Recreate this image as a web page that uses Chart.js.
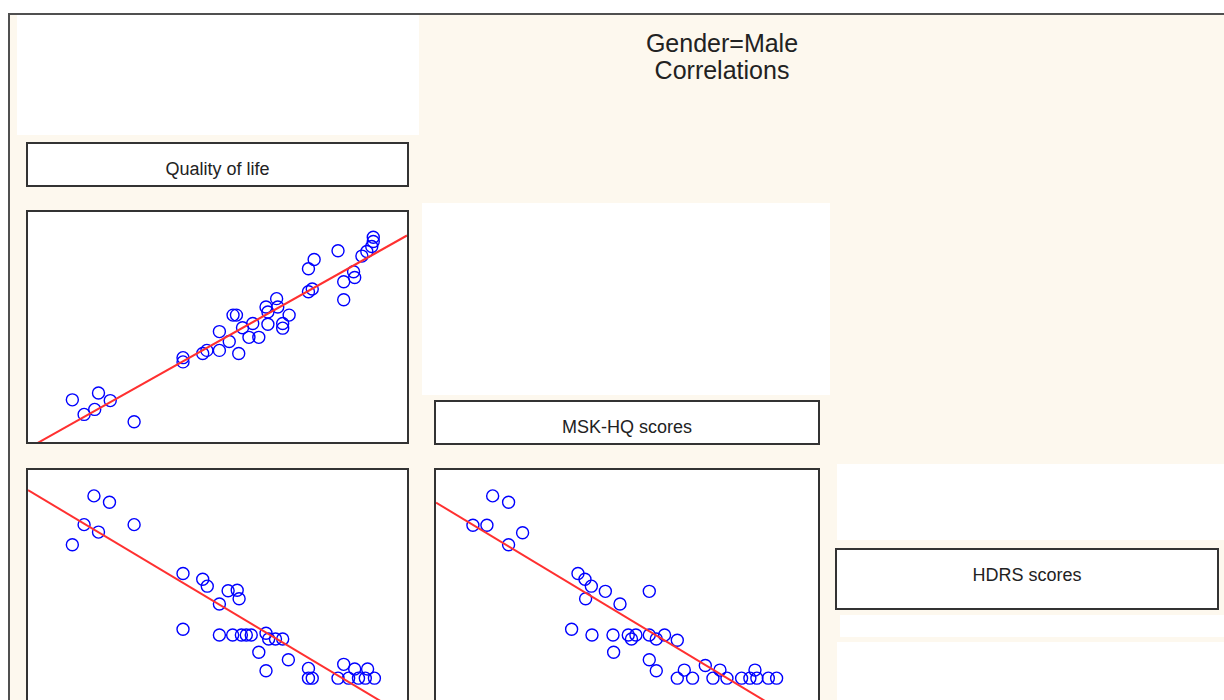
<!DOCTYPE html>
<html>
<head>
<meta charset="utf-8">
<title>Gender=Male Correlations</title>
<script src="https://cdn.jsdelivr.net/npm/chart.js@4.4.1/dist/chart.umd.min.js"></script>
<style>
body{margin:0;width:1224px;height:700px;overflow:hidden;background:#fff;font-family:Arial,"Liberation Sans",sans-serif;position:relative;}
#frame{position:absolute;left:8px;top:13px;width:1230px;height:700px;background:#fdf8ee;border-left:2px solid #505050;border-top:2px solid #505050;}
.white{position:absolute;background:#fff;}
.lbl{position:absolute;background:#fff;border:2px solid #333;box-sizing:border-box;text-align:center;font-size:18px;line-height:20px;color:#222;}
.panel{position:absolute;background:#fff;border:2px solid #333;box-sizing:border-box;}
.panel canvas{display:block;}
#title{position:absolute;left:572px;top:30px;width:300px;text-align:center;font-size:25px;line-height:27px;color:#222;}
</style>
</head>
<body>
<div id="frame"></div>
<div class="white" style="left:17px;top:15px;width:402px;height:120px;"></div>
<div class="white" style="left:422px;top:203px;width:408px;height:192px;"></div>
<div class="white" style="left:837px;top:464px;width:387px;height:76px;"></div>
<div class="white" style="left:840px;top:615px;width:384px;height:22px;"></div>
<div class="white" style="left:837px;top:642px;width:387px;height:60px;"></div>
<div id="title">Gender=Male<br>Correlations</div>
<div class="lbl" style="left:26px;top:142px;width:383px;height:45px;padding-top:15px;">Quality of life</div>
<div class="lbl" style="left:434px;top:400px;width:386px;height:45px;padding-top:15px;">MSK-HQ scores</div>
<div class="lbl" style="left:835px;top:548px;width:384px;height:62px;padding-top:15px;">HDRS scores</div>
<div class="panel" style="left:26px;top:210px;width:383px;height:234px;"><canvas id="pA" width="379" height="230"></canvas></div>
<div class="panel" style="left:26px;top:468px;width:383px;height:234px;"><canvas id="pB" width="379" height="230"></canvas></div>
<div class="panel" style="left:434px;top:468px;width:386px;height:234px;"><canvas id="pC" width="382" height="230"></canvas></div>
<script>
// axis ranges (no tick labels shown in the original)
var qolRange = [0, 100];
var mskRange = [0, 60];
var hdrsRange = [0, 40];

// Quality of life (x) vs MSK-HQ scores (y)
var qolA = [11.7, 18.6, 21.7, 14.8, 17.6, 28.0, 40.9, 40.9, 46.1, 47.2, 50.5, 50.5, 53.1, 55.6,
	54.1, 55.0, 56.6, 58.3, 60.9, 59.3, 63.3, 62.8, 63.3, 65.6, 65.9, 67.2, 67.2, 68.9,
	74.0, 75.5, 74.0, 75.0, 81.8, 83.3, 83.3, 85.9, 86.2, 88.1, 89.4, 91.1, 91.1, 90.7];
var mskA = [11.0, 12.8, 10.8, 7.2, 8.5, 5.3, 22.0, 20.9, 23.1, 23.9, 23.9, 28.8, 26.2, 23.1,
	33.1, 33.1, 29.8, 27.3, 27.3, 30.9, 30.7, 35.2, 33.9, 37.4, 35.2, 30.9, 29.7, 33.1,
	45.2, 47.6, 39.2, 39.9, 49.9, 41.8, 37.1, 44.4, 42.9, 48.5, 49.7, 53.4, 52.3, 51.0];

// Quality of life (x) vs HDRS scores (y)
var qolB = [17.4, 21.5, 14.8, 18.6, 11.7, 28.0, 40.9, 46.1, 47.3, 52.8, 55.2, 55.7, 50.5,
	40.9, 50.5, 54.0, 56.3, 57.6, 58.9, 62.8, 63.5, 65.3, 67.2, 60.9, 68.7, 62.8,
	74.0, 74.0, 75.0, 83.3, 81.8, 86.2, 89.6, 84.6, 87.2, 91.4, 89.0];
var hdrsB = [35.5, 34.4, 30.5, 29.2, 27.0, 30.5, 22.0, 21.0, 19.8, 19.0, 19.1, 17.6, 16.7,
	12.3, 11.3, 11.3, 11.3, 11.3, 11.3, 11.6, 10.6, 10.6, 10.6, 8.3, 7.0, 5.1,
	5.5, 3.8, 3.8, 6.2, 3.8, 5.4, 5.4, 3.8, 3.8, 3.8, 3.8];

// MSK-HQ scores (x) vs HDRS scores (y)
var mskC = [8.9, 11.4, 5.8, 8.0, 13.6, 11.4, 22.3, 23.4, 24.4, 26.6, 23.5, 28.9, 33.5,
	21.3, 24.5, 27.8, 30.2, 30.7, 31.4, 33.5, 34.6, 35.9, 37.9, 27.9, 33.5, 34.6,
	37.9, 39.0, 40.3, 42.3, 43.5, 44.6, 45.7, 48.0, 50.1, 49.3, 50.4, 52.2, 53.5];
var hdrsC = [35.5, 34.4, 30.4, 30.4, 29.1, 27.0, 22.0, 21.0, 19.8, 18.9, 17.6, 16.7, 18.9,
	12.3, 11.3, 11.3, 11.3, 10.6, 11.3, 11.3, 10.6, 11.3, 10.4, 8.3, 7.0, 5.1,
	3.8, 5.2, 3.8, 6.0, 3.8, 5.2, 3.8, 3.8, 5.2, 3.8, 3.8, 3.8, 3.8];

function fitLine(xs, ys, xr) {
	var n = xs.length, sx = 0, sy = 0, sxx = 0, sxy = 0;
	for (var i = 0; i < n; i++) {
		sx += xs[i]; sy += ys[i];
		sxx += xs[i] * xs[i]; sxy += xs[i] * ys[i];
	}
	var b = (n * sxy - sx * sy) / (n * sxx - sx * sx);
	var a = (sy - b * sx) / n;
	return [{x: xr[0], y: a + b * xr[0]}, {x: xr[1], y: a + b * xr[1]}];
}

function drawPanel(id, xs, ys, xr, yr) {
	var pts = [];
	for (var i = 0; i < xs.length; i++) pts.push({x: xs[i], y: ys[i]});
	new Chart(document.getElementById(id).getContext('2d'), {
		type: 'scatter',
		data: {
			datasets: [{
				data: pts,
				pointStyle: 'circle',
				pointRadius: 6,
				pointBorderWidth: 1.4,
				borderColor: '#0000ff',
				backgroundColor: 'rgba(0,0,0,0)',
				order: 2
			}, {
				type: 'line',
				data: fitLine(xs, ys, xr),
				borderColor: '#ff3030',
				borderWidth: 2,
				pointRadius: 0,
				clip: 0,
				order: 1
			}]
		},
		options: {
			responsive: false,
			animation: false,
			layout: {padding: 0, autoPadding: false},
			plugins: {legend: {display: false}, tooltip: {enabled: false}},
			scales: {
				x: {type: 'linear', display: false, min: xr[0], max: xr[1]},
				y: {type: 'linear', display: false, min: yr[0], max: yr[1]}
			}
		}
	});
}

drawPanel('pA', qolA, mskA, qolRange, mskRange);
drawPanel('pB', qolB, hdrsB, qolRange, hdrsRange);
drawPanel('pC', mskC, hdrsC, mskRange, hdrsRange);
</script>
</body>
</html>
